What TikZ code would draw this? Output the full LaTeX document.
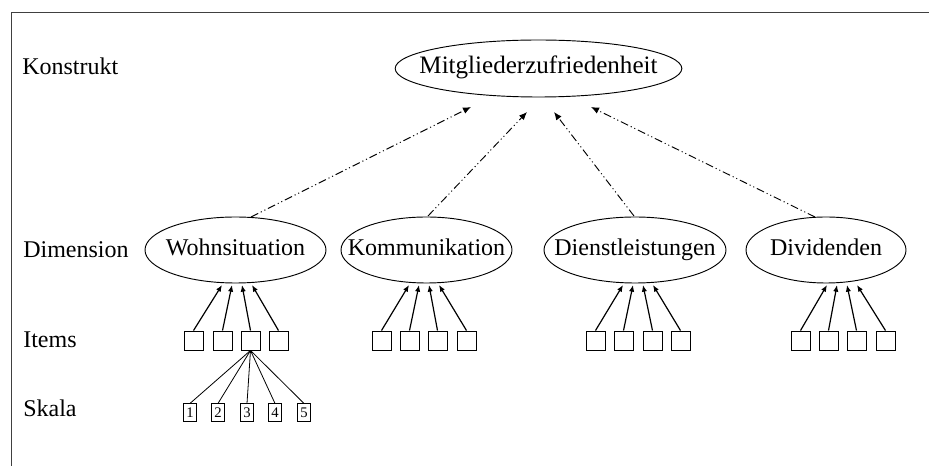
\documentclass[tikz,border=0pt]{standalone}
\usepackage{fontspec}
\setmainfont{Liberation Serif}
\usetikzlibrary{shapes.geometric,arrows.meta}
\newcommand{\zw}[1]{\makebox[0pt]{#1}}
\begin{document}
\begin{tikzpicture}[x=0.75pt,y=-0.75pt,
  every node/.style={font=\fontsize{18}{20}\selectfont},
  lbl/.style={anchor=base west,inner sep=0},
  oval/.style={draw,ellipse,inner sep=0,line width=0.7pt,text height=12pt,text depth=4pt},
  itembox/.style={draw,minimum width=14.25pt,minimum height=14.25pt,inner sep=0,line width=0.7pt},
  scalebox/.style={draw,minimum width=9.5pt,minimum height=13pt,inner sep=0,line width=0.6pt,font=\fontsize{11}{12}\selectfont},
  itemarrow/.style={line width=0.9pt,-{Latex[length=5pt,width=4pt]}},
  dimarrow/.style={line width=0.7pt,dash pattern=on 6pt off 2.2pt on 0.8pt off 2.2pt on 0.8pt off 2.2pt,-{Latex[length=6pt,width=5pt]}},
  scaleline/.style={line width=0.6pt}
]
\useasboundingbox (0,0) rectangle (929,466);
\draw[line width=1.1pt,black!75] (11.5,466) -- (11.5,12.5) -- (929,12.5);

% row labels
\node[lbl] (lk) at (22,75) {Konstrukt};
\node[lbl] (ld) at (23,258) {Dimension};
\node[lbl] (li) at (23,348) {Items};
\node[lbl] (ls) at (23,417) {Skala};

% construct
\node[oval,minimum width=215pt,minimum height=42.75pt,font=\fontsize{18.8}{20}\selectfont] (M) at (538.5,68.5) {\zw{Mitgliederzufriedenheit}};

% dimensions
\node[oval,minimum width=135.75pt,minimum height=49.5pt] (W) at (235.5,250) {\zw{Wohnsituation}};
\node[oval,minimum width=128.25pt,minimum height=49.5pt] (K) at (426.5,250) {\zw{Kommunikation}};
\node[oval,minimum width=136.5pt,minimum height=49.5pt] (D) at (635,250) {\zw{Dienstleistungen}};
\node[oval,minimum width=120pt,minimum height=49.5pt] (V) at (826,250) {\zw{Dividenden}};

% heads and tails of dimension arrows
\coordinate (hW) at (471,107);
\coordinate (hK) at (527,112);
\coordinate (hD) at (554,112);
\coordinate (hV) at (591,107);
\coordinate (tW) at (251,217);
\coordinate (tK) at (428,216);
\coordinate (tD) at (634,216);
\coordinate (tV) at (815,217);
\draw[dimarrow] (tW) -- (hW);
\draw[dimarrow] (tK) -- (hK);
\draw[dimarrow] (tD) -- (hD);
\draw[dimarrow] (tV) -- (hV);

% items
\foreach \g/\xa/\xb/\xc/\xd/\hc in {W/193.5/222.5/250.5/278.5/237, K/381.5/409.5/437.5/466.5/424, D/595.5/623.5/652.5/680.5/638, V/800.5/828.5/856.5/885.5/842}{
  \node[itembox] (\g1) at (\xa,340.5) {};
  \node[itembox] (\g2) at (\xb,340.5) {};
  \node[itembox] (\g3) at (\xc,340.5) {};
  \node[itembox] (\g4) at (\xd,340.5) {};
  \coordinate (\g h1) at (\hc-15,285);
  \coordinate (\g h2) at (\hc-5,285);
  \coordinate (\g h3) at (\hc+5,285);
  \coordinate (\g h4) at (\hc+15,285);
  \draw[itemarrow] (\g1.north) -- (\g h1);
  \draw[itemarrow] (\g2.north) -- (\g h2);
  \draw[itemarrow] (\g3.north) -- (\g h3);
  \draw[itemarrow] (\g4.north) -- (\g h4);
}

% scale
\node[scalebox] (s1) at (190,412.5) {1};
\node[scalebox] (s2) at (218,412.5) {2};
\node[scalebox] (s3) at (247,412.5) {3};
\node[scalebox] (s4) at (275,412.5) {4};
\node[scalebox] (s5) at (304,412.5) {5};
\foreach \i in {1,...,5}{
  \draw[scaleline] (W3.south) -- (s\i.north);
}
\end{tikzpicture}
\end{document}
